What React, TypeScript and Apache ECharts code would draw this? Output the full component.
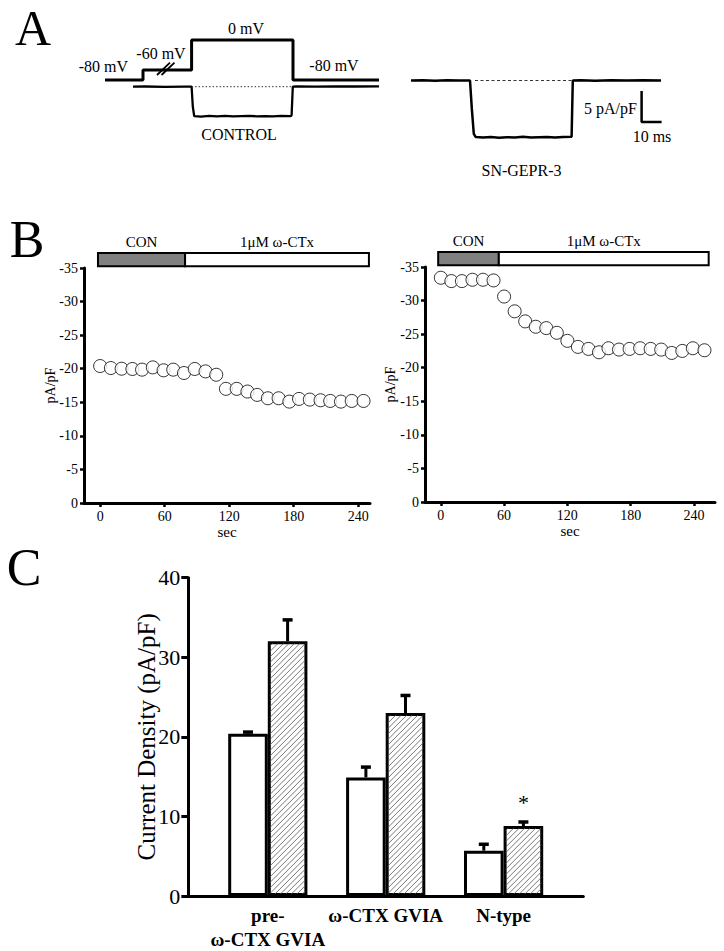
import React, { useEffect, useRef } from 'react';
import * as echarts from 'echarts';

const FONT = '"Liberation Serif", "Times New Roman", Times, serif';

// ---------------- Panel A : protocol and current traces ----------------
// protocol (ms, mV)
const protocolTime = [0, 19, 19, 43.3, 43.3, 94, 94, 137];
const protocolMv = [-80, -80, -60, -60, 0, 0, -80, -80];
// CONTROL current (ms, pA/pF)
const controlTime = [14, 20, 30, 40, 43.3, 43.9, 44.6, 48, 52, 56, 60, 64, 68, 72, 76, 80, 84, 88, 92.8, 93.3, 93.9, 96, 105, 115, 125, 137];
const controlPa = [0, 0.03, -0.02, 0.02, 0, -3.2, -4.75, -4.82, -4.7, -4.78, -4.72, -4.8, -4.74, -4.69, -4.78, -4.73, -4.8, -4.71, -4.76, -4.6, 0, 0.05, 0.02, 0.04, 0.03, 0.05];
const controlRefTime = [43.3, 93.4];
// SN-GEPR-3 current (ms, pA/pF)
const snTime = [0, 6, 12, 18, 24, 29.5, 30.4, 31.4, 32.4, 36, 40, 44, 48, 52, 56, 60, 64, 68, 72, 76, 80.3, 80.9, 85, 92, 100, 108, 116, 125];
const snPa = [0, 0.04, -0.02, 0.05, 0.01, 0, -4.5, -8.6, -9.12, -9.2, -9.1, -9.22, -9.15, -9.18, -9.08, -9.2, -9.14, -9.1, -9.2, -9.13, -9.08, 0, 0.04, -0.02, 0.05, 0, 0.03, 0.02];
const snRefTime = [32, 80.3];
// scale bar: 5 pA/pF, 10 ms
const scaleBarTime = [115.3, 115.3, 125.3];
const scaleBarPa = [-1.7, -6.7, -6.7];

// ---------------- Panel B : time courses ----------------
const timesLeft = [0, 10, 20, 30, 39, 49, 59, 68, 78, 88, 98, 108, 117, 127, 137, 146, 156, 166, 176, 185, 195, 205, 214, 224, 234, 245];
const densityLeft = [-20.4, -20.1, -20.0, -19.96, -19.86, -20.2, -19.76, -19.86, -19.36, -19.96, -19.6, -19.1, -17.0, -17.0, -16.6, -16.1, -15.6, -15.6, -15.1, -15.5, -15.4, -15.3, -15.2, -15.1, -15.2, -15.2];
const timesRight = [0, 10, 20, 30, 40, 50, 60, 70, 80, 90, 100, 110, 120, 130, 140, 150, 159, 169, 179, 189, 199, 209, 219, 229, 239, 250];
const densityRight = [-33.4, -32.9, -32.9, -33.1, -33.1, -33.0, -30.6, -28.4, -26.9, -26.1, -25.9, -25.2, -24.0, -23.1, -22.8, -22.3, -22.9, -22.7, -22.8, -22.9, -22.8, -22.7, -22.2, -22.5, -22.9, -22.6];
const bTicks = [0, 60, 120, 180, 240];
const segmentLabels = ['CON', '1μM ω-CTx'];
const segmentsLeft = [[-2, 79], [79, 250]];
const segmentsRight = [[-2.5, 55], [55, 254]];

// ---------------- Panel C : current density ----------------
const categoriesC = ['pre-\nω-CTX GVIA', 'ω-CTX GVIA', 'N-type'];
const controlMeans = [20.4, 14.9, 5.7];
const controlSem = [0.2, 1.3, 0.8];
const snMeans = [32.0, 23.0, 8.8];
const snSem = [2.7, 2.2, 0.5];
const significant = [false, false, true];

const zip = (a: number[], b: number[]) => a.map((v, i) => [v, b[i]]);

const BAR_W = 39.6;
const HATCH = 5.5;

function txt(text: string, x: number, y: number, size: number, extra: any = {}) {
  return {
    type: 'text',
    x,
    y,
    silent: true,
    style: {
      text,
      fill: '#000',
      fontSize: size,
      fontFamily: FONT,
      align: 'center',
      verticalAlign: 'middle',
      textAlign: 'center',
      textVerticalAlign: 'middle',
      ...extra,
    },
  };
}

export default function App() {
  const ref = useRef<HTMLDivElement>(null);
  useEffect(() => {
    document.body.style.margin = '0';
    document.body.style.overflow = 'hidden';
    const chart = echarts.init(ref.current!, undefined, { renderer: 'svg' });
    const black = '#000';
    const hiddenAxis = (gridIndex: number, min: number, max: number) => ({
      gridIndex, type: 'value', min, max, show: false,
    });
    const bXAxis = (gridIndex: number, min: number, max: number) => ({
      gridIndex, type: 'value', min, max,
      axisLine: { show: true, onZero: false, lineStyle: { color: black, width: 3 } },
      axisTick: { show: true, customValues: bTicks, length: 4, lineStyle: { color: black, width: 2.5 } },
      axisLabel: { customValues: bTicks, color: black, fontSize: 14, fontFamily: FONT, margin: 6 },
      splitLine: { show: false },
      name: 'sec', nameLocation: 'middle', nameGap: 21, nameMoveOverlap: false,
      nameTextStyle: { color: black, fontSize: 15, fontFamily: FONT },
    });
    const bYAxis = (gridIndex: number, gap: number) => ({
      gridIndex, type: 'value', min: -35, max: 0, interval: 5, inverse: true,
      axisLine: { show: true, onZero: false, lineStyle: { color: black, width: 3 } },
      axisTick: { show: true, length: 4, lineStyle: { color: black, width: 2.5 } },
      axisLabel: { color: black, fontSize: 14, fontFamily: FONT, margin: 6 },
      splitLine: { show: false },
      name: 'pA/pF', nameLocation: 'middle', nameGap: gap, nameMoveOverlap: false,
      nameTextStyle: { color: black, fontSize: 14, fontFamily: FONT },
    });
    const segmentSeries = (xAxisIndex: number, yAxisIndex: number, segs: number[][]) => ({
      type: 'custom', xAxisIndex, yAxisIndex, clip: false, silent: true, z: 3,
      data: segs.map((s, i) => [s[0], s[1], i]),
      renderItem: (params: any, api: any) => {
        const s = api.value(0), e = api.value(1), i = api.value(2);
        const p0 = api.coord([s, -37.25]);
        const p1 = api.coord([e, -35.25]);
        const mid = api.coord([(s + e) / 2, -38.8]);
        return {
          type: 'group',
          children: [
            { type: 'rect', shape: { x: p0[0], y: p0[1], width: p1[0] - p0[0], height: p1[1] - p0[1] },
              style: { fill: i === 0 ? '#808080' : '#fff', stroke: black, lineWidth: 2 } },
            { type: 'text', x: mid[0], y: mid[1],
              style: { text: segmentLabels[i], fill: black, fontSize: 15, fontFamily: FONT,
                align: 'center', verticalAlign: 'middle', textAlign: 'center', textVerticalAlign: 'middle' } },
          ],
        };
      },
    });
    const errorSeries = (means: number[], sem: number[], offset: number) => ({
      type: 'custom', xAxisIndex: 5, yAxisIndex: 6, silent: true, z: 6,
      data: means.map((m, i) => [i, m, sem[i]]),
      renderItem: (params: any, api: any) => {
        const i = api.value(0), m = api.value(1), e = api.value(2);
        const b = api.coord([i, m]);
        const t = api.coord([i, m + e]);
        const x = b[0] + offset;
        return {
          type: 'group',
          children: [
            { type: 'line', shape: { x1: x, y1: b[1], x2: x, y2: t[1] }, style: { stroke: black, lineWidth: 3 } },
            { type: 'line', shape: { x1: x - 5, y1: t[1], x2: x + 5, y2: t[1] }, style: { stroke: black, lineWidth: 3.5 } },
          ],
        };
      },
    });
    const lineS = (xAxisIndex: number, yAxisIndex: number, data: number[][], width: number, type: any = 'solid', color = black) => ({
      type: 'line', xAxisIndex, yAxisIndex, data, symbol: 'none', silent: true,
      lineStyle: { color, width, type },
    });

    const option: any = {
      animation: false,
      textStyle: { fontFamily: FONT },
      grid: [
        { left: 105, top: 30, width: 274, height: 110, outerBoundsMode: 'none' },
        { left: 411, top: 30, width: 260, height: 130, outerBoundsMode: 'none' },
        { left: 84, top: 268, width: 286, height: 235, outerBoundsMode: 'none' },
        { left: 425, top: 267, width: 290, height: 235, outerBoundsMode: 'none' },
        { left: 188.3, top: 577.7, width: 395, height: 318.3, outerBoundsMode: 'none' },
        { left: 208.85, top: 577.7, width: 353.7, height: 318.3, outerBoundsMode: 'none' },
      ],
      xAxis: [
        hiddenAxis(0, 0, 137),
        hiddenAxis(1, 0, 130),
        bXAxis(2, -15, 251),
        bXAxis(3, -15, 260),
        {
          gridIndex: 4, type: 'value', min: 0, max: 1,
          axisLine: { show: true, onZero: false, lineStyle: { color: black, width: 3 } },
          axisTick: { show: false }, axisLabel: { show: false }, splitLine: { show: false },
        },
        {
          gridIndex: 5, type: 'category', data: categoriesC,
          axisLine: { show: false }, axisTick: { show: false }, splitLine: { show: false },
          axisLabel: { interval: 0, color: black, fontSize: 19, fontWeight: 'bold', fontFamily: FONT, lineHeight: 24, margin: 7 },
        },
      ],
      yAxis: [
        hiddenAxis(0, -200, 20),
        hiddenAxis(0, -8.597, 9.145),
        hiddenAxis(1, -12.82, 8.145),
        bYAxis(2, 27),
        bYAxis(3, 28),
        {
          gridIndex: 4, type: 'value', min: 0, max: 40, interval: 10,
          axisLine: { show: true, onZero: false, lineStyle: { color: black, width: 3 } },
          axisTick: { show: true, length: 7, lineStyle: { color: black, width: 3 } },
          axisLabel: { color: black, fontSize: 22, fontFamily: FONT, margin: 8 },
          splitLine: { show: false },
          name: 'Current Density (pA/pF)', nameLocation: 'middle', nameGap: 29, nameMoveOverlap: false,
          nameTextStyle: { color: black, fontSize: 25, fontFamily: FONT },
        },
        { gridIndex: 5, type: 'value', min: 0, max: 40, show: false },
      ],
      series: [
        // Panel A
        lineS(0, 0, zip(protocolTime, protocolMv), 3),
        lineS(0, 1, zip(controlTime, controlPa), 2.3),
        lineS(0, 1, controlRefTime.map((t) => [t, 0]), 1, [1.5, 2], '#333'),
        lineS(1, 2, zip(snTime, snPa), 2.5),
        lineS(1, 2, snRefTime.map((t) => [t, 0]), 1, [3, 2.5], '#333'),
        lineS(1, 2, zip(scaleBarTime, scaleBarPa), 2.5),
        // Panel B
        segmentSeries(2, 3, segmentsLeft),
        segmentSeries(3, 4, segmentsRight),
        {
          type: 'scatter', xAxisIndex: 2, yAxisIndex: 3, data: zip(timesLeft, densityLeft),
          symbol: 'circle', symbolSize: 13, silent: true,
          itemStyle: { color: '#fff', borderColor: black, borderWidth: 1 },
        },
        {
          type: 'scatter', xAxisIndex: 3, yAxisIndex: 4, data: zip(timesRight, densityRight),
          symbol: 'circle', symbolSize: 13, silent: true,
          itemStyle: { color: '#fff', borderColor: black, borderWidth: 1 },
        },
        // Panel C
        {
          type: 'bar', xAxisIndex: 5, yAxisIndex: 6, data: controlMeans, barWidth: BAR_W, barGap: '0%', silent: true, z: 2,
          itemStyle: { color: '#fff', borderColor: black, borderWidth: 3 },
        },
        {
          type: 'bar', xAxisIndex: 5, yAxisIndex: 6, barWidth: BAR_W, barGap: '0%', silent: true, z: 2,
          itemStyle: { color: '#fff', borderColor: black, borderWidth: 3 },
          data: snMeans.map((v, i) => significant[i]
            ? { value: v, label: { show: true, formatter: '*', position: 'top', distance: 12, color: black, fontSize: 22, fontFamily: FONT } }
            : v),
        },
        {
          type: 'custom', xAxisIndex: 5, yAxisIndex: 6, silent: true, z: 4,
          data: snMeans.map((m, i) => [i, m]),
          renderItem: (params: any, api: any) => {
            const i = api.value(0), m = api.value(1);
            const top = api.coord([i, m]);
            const base = api.coord([i, 0]);
            const x0 = top[0] + 2, x1 = top[0] + BAR_W - 2, y0 = top[1] + 2, y1 = base[1] - 2;
            const children: any[] = [];
            for (let c = x0 + y0 + HATCH / 2; c < x1 + y1; c += HATCH) {
              const xs = Math.max(x0, c - y1);
              const xe = Math.min(x1, c - y0);
              if (xe > xs) {
                children.push({ type: 'line', shape: { x1: xs, y1: c - xs, x2: xe, y2: c - xe }, style: { stroke: '#555', lineWidth: 0.8 } });
              }
            }
            return { type: 'group', children };
          },
        },
        errorSeries(controlMeans, controlSem, -BAR_W / 2),
        errorSeries(snMeans, snSem, BAR_W / 2),
      ],
      graphic: [
        txt('A', 33, 28, 50),
        txt('B', 27, 239, 52),
        txt('C', 24, 567, 52),
        txt('-80 mV', 103.4, 66.7, 16),
        txt('-60 mV', 161, 53, 16),
        txt('0 mV', 246, 28.5, 16),
        txt('-80 mV', 334, 65.5, 16),
        txt('CONTROL', 239, 134, 16),
        txt('SN-GEPR-3', 521.5, 170, 16),
        txt('5 pA/pF', 610.5, 108.3, 16),
        txt('10 ms', 652, 136.7, 16),
        { type: 'line', shape: { x1: 157, y1: 75, x2: 170, y2: 62.7 }, style: { stroke: black, lineWidth: 1.8 } },
        { type: 'line', shape: { x1: 161.5, y1: 75, x2: 174.5, y2: 62.7 }, style: { stroke: black, lineWidth: 1.8 } },
      ],
    };
    chart.setOption(option);
    return () => chart.dispose();
  }, []);
  return <div ref={ref} style={{ width: 724, height: 951, background: '#fff' }} />;
}
